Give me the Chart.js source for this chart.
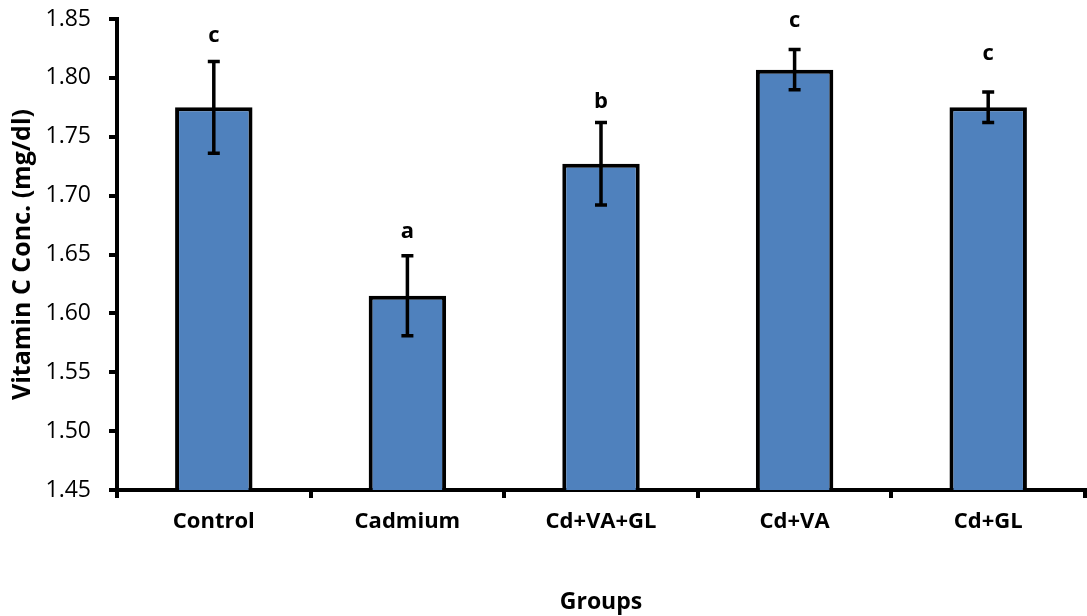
<!DOCTYPE html>
<html>
<head>
<meta charset="utf-8">
<script src="https://cdn.jsdelivr.net/npm/chart.js@4.4.1/dist/chart.umd.min.js"></script>
<style>
  html, body { margin: 0; padding: 0; background: #fff; }
  #wrap { width: 1087px; height: 616px; }
</style>
</head>
<body>
<div id="wrap"><canvas id="chart" width="1087" height="616"></canvas></div>
<script>
'use strict';

// ── Daten ──
const groups   = ['Control', 'Cadmium', 'Cd+VA+GL', 'Cd+VA', 'Cd+GL'];
const means    = [1.775, 1.615, 1.727, 1.807, 1.775];
const errors   = [0.039, 0.034, 0.035, 0.017, 0.013];
const letters  = ['c', 'a', 'b', 'c', 'c'];
// Höhe der Buchstaben (in Einheiten der y-Achse)
const letterAt = [1.836, 1.670, 1.780, 1.849, 1.821];
const yTicks   = [1.45, 1.50, 1.55, 1.60, 1.65, 1.70, 1.75, 1.80, 1.85];

const FONT = '"Open Sans", Lato, sans-serif';

// ── Fehlerbalken + Buchstaben ──
const errorBars = {
  id: 'errorBars',
  afterDatasetsDraw(chart) {
    const { ctx, scales: { y } } = chart;
    const meta = chart.getDatasetMeta(0);
    ctx.save();
    ctx.strokeStyle = '#000';
    ctx.lineWidth = 3.5;
    ctx.fillStyle = '#000';
    ctx.font = 'bold 22px ' + FONT;
    ctx.textAlign = 'center';
    ctx.textBaseline = 'alphabetic';
    meta.data.forEach((bar, i) => {
      const x = bar.x;
      const top = y.getPixelForValue(means[i] + errors[i]);
      const bot = y.getPixelForValue(means[i] - errors[i]);
      ctx.beginPath();
      ctx.moveTo(x, top); ctx.lineTo(x, bot);
      ctx.moveTo(x - 6, top); ctx.lineTo(x + 6, top);
      ctx.moveTo(x - 6, bot); ctx.lineTo(x + 6, bot);
      ctx.stroke();
      ctx.fillText(letters[i], x, y.getPixelForValue(letterAt[i]) + 7);
    });
    ctx.restore();
  }
};

new Chart(document.getElementById('chart'), {
  type: 'bar',
  data: {
    labels: groups,
    datasets: [{
      data: means,
      backgroundColor: '#4f81bd',
      borderColor: '#000',
      borderWidth: 4,
      borderSkipped: 'bottom',
      categoryPercentage: 1,
      barPercentage: 0.4,
    }]
  },
  options: {
    responsive: false,
    animation: false,
    layout: { padding: { top: 19, right: 2, left: 0, bottom: 0 } },
    plugins: { legend: { display: false }, tooltip: { enabled: false } },
    scales: {
      x: {
        afterFit: s => { s.height = 126; },
        border: { color: '#000', width: 4 },
        grid: { drawOnChartArea: false, tickLength: 8, color: '#000', lineWidth: 4, offset: true },
        ticks: { color: '#000', padding: 11, font: { family: FONT, size: 22, weight: 'bold' } },
        title: { display: true, text: 'Groups', color: '#000', padding: { top: 0, bottom: 0 },
                 font: { family: FONT, size: 23, weight: 'bold' } },
      },
      y: {
        min: 1.45,
        max: 1.85,
        afterFit: s => { s.width = 117; s.paddingTop = 0; s.paddingBottom = 0; },
        afterBuildTicks: s => { s.ticks = yTicks.map(v => ({ value: v })); },
        border: { color: '#000', width: 4 },
        grid: { drawOnChartArea: false, tickLength: 8, color: '#000', lineWidth: 4 },
        ticks: { color: '#000', padding: 18, font: { family: FONT, size: 23 },
                 callback: v => Number(v).toFixed(2) },
        title: { display: true, text: 'Vitamin C Conc. (mg/dl)', color: '#000', padding: { top: 8, bottom: 0 },
                 font: { family: FONT, size: 25, weight: 'bold' } },
      }
    }
  },
  plugins: [errorBars]
});
</script>
</body>
</html>
